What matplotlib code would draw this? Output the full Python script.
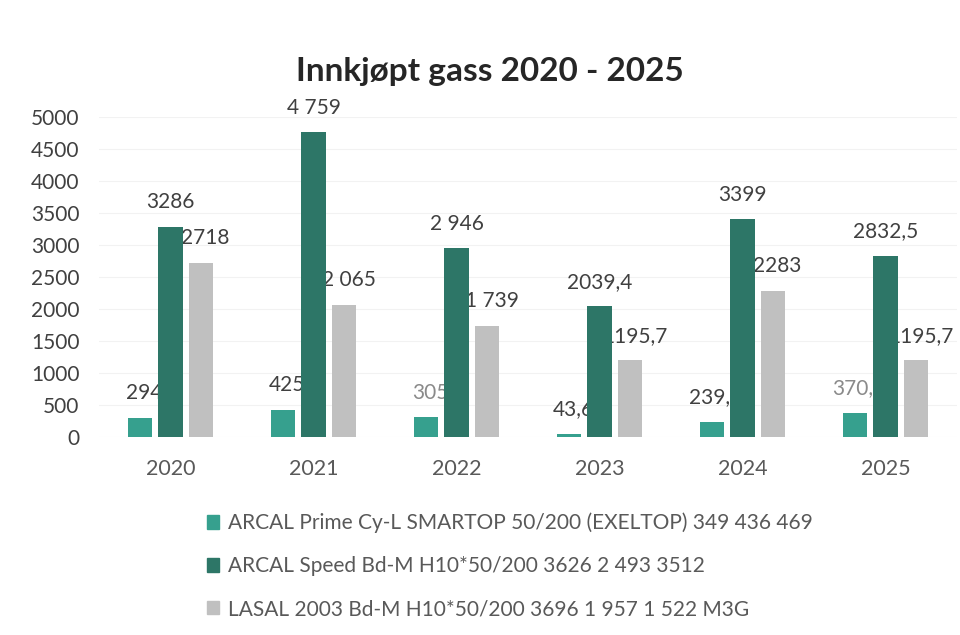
import numpy as np
import matplotlib
matplotlib.use("Agg")
import matplotlib.pyplot as plt
from matplotlib.patches import Patch

plt.rcParams['font.family'] = ['Lato', 'DejaVu Sans']

years = ["2020", "2021", "2022", "2023", "2024", "2025"]
series_names = [
    "ARCAL Prime Cy-L SMARTOP 50/200 (EXELTOP) 349 436 469",
    "ARCAL Speed Bd-M H10*50/200 3626 2 493 3512",
    "LASAL 2003 Bd-M H10*50/200 3696 1 957 1 522 M3G",
]
prime = [294, 425, 305, 43.6, 239.4, 370.6]
speed = [3286, 4759, 2946, 2039.4, 3399, 2832.5]
lasal = [2718, 2065, 1739, 1195.7, 2283, 1195.7]
prime_labels = ["294", "425", "305", "43,6", "239,4", "370,6"]
speed_labels = ["3286", "4 759", "2 946", "2039,4", "3399", "2832,5"]
lasal_labels = ["2718", "2 065", "1 739", "1195,7", "2283", "1195,7"]
yticks = [0, 500, 1000, 1500, 2000, 2500, 3000, 3500, 4000, 4500, 5000]

colors = ["#36a08e", "#2d7667", "#c0c0c0"]

fig = plt.figure(figsize=(9.6, 6.35), dpi=100)
ax = fig.add_axes([99 / 960, 1 - 437 / 635, 858 / 960, 320 / 635])

x = np.arange(len(years))
w = 0.17
off = 0.215
data = [prime, speed, lasal]
labels = [prime_labels, speed_labels, lasal_labels]

for i, (vals, labs) in enumerate(zip(data, labels)):
    pos = x + (i - 1) * off
    ax.bar(pos, vals, width=w, color=colors[i], zorder=3, label=series_names[i])
    for j, (p, v, t) in enumerate(zip(pos, vals, labs)):
        c = "#404040"
        if i == 0 and j in (2, 5):
            c = "#8a8a8a"
        ax.text(p + (0.03 if i != 1 else 0), v + 230, t, ha="center", va="bottom",
                fontsize=15, color=c, zorder=2)

ax.set_ylim(0, 5000)
ax.set_xlim(-0.5, len(years) - 0.5)
ax.set_yticks(yticks)
ax.set_yticklabels([str(t) for t in yticks], fontsize=15, color="#404040")
ax.set_xticks(x)
ax.set_xticklabels(years, fontsize=15.5, color="#595959")
ax.tick_params(axis="y", length=0, pad=14)
ax.tick_params(axis="x", length=0, pad=16)
ax.grid(axis="y", color="#f2f2f2", linewidth=0.8, zorder=0)
for s in ax.spines.values():
    s.set_visible(False)

fig.suptitle("Innkjøpt gass 2020 - 2025", x=0.51, y=0.91, fontsize=24,
             fontweight="bold", color="#262626")

handles = [Patch(color=c) for c in colors]
fig.legend(handles, series_names, loc="upper left", bbox_to_anchor=(188 / 960, 1 - 494 / 635),
           frameon=False, fontsize=15, labelcolor="#595959", labelspacing=1.1,
           handlelength=0.6, handleheight=0.6, handletextpad=0.4)

fig.savefig("out.png", dpi=100, facecolor="white")
